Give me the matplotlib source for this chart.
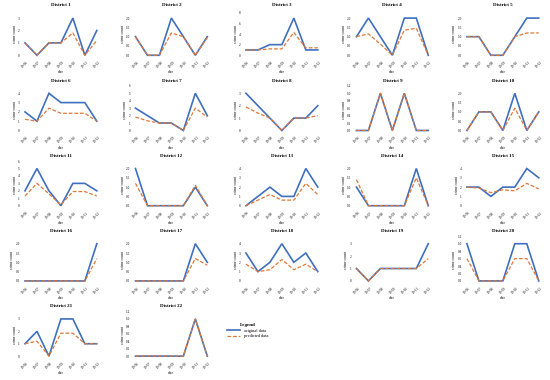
import matplotlib
matplotlib.use("Agg")
import matplotlib.pyplot as plt
from matplotlib.lines import Line2D

dates = ["19-06", "19-07", "19-08", "19-09", "19-10", "19-11", "19-12"]

districts = ["District %d" % i for i in range(1, 23)]

original = [
    [1, 0, 1, 1, 3, 0, 2],
    [1, 0, 0, 2, 1, 0, 1],
    [1, 1, 2, 2, 7, 1, 1],
    [1, 2, 1, 0, 2, 2, 0],
    [1, 1, 0, 0, 1, 2, 2],
    [2, 1, 4, 3, 3, 3, 1],
    [3, 2, 1, 1, 0, 5, 2],
    [3, 2, 1, 0, 1, 1, 2],
    [0, 0, 1, 0, 1, 0, 0],
    [0, 1, 1, 0, 2, 0, 1],
    [2, 5, 2, 0, 3, 3, 2],
    [2, 0, 0, 0, 0, 1, 0],
    [0, 1, 2, 1, 1, 4, 2],
    [1, 0, 0, 0, 0, 2, 0],
    [2, 2, 1, 2, 2, 4, 3],
    [0, 0, 0, 0, 0, 0, 2],
    [0, 0, 0, 0, 0, 2, 1],
    [3, 1, 2, 4, 2, 3, 1],
    [1, 0, 1, 1, 1, 1, 3],
    [1, 0, 0, 0, 1, 1, 0],
    [1, 2, 0, 3, 3, 1, 1],
    [0, 0, 0, 0, 0, 1, 0],
]

predicted = [
    [1, 0, 1, 1, 1.8, 0, 1.2],
    [1, 0, 0, 1.2, 1.0, 0, 0.95],
    [1, 1, 1.2, 1.2, 4.3, 1.4, 1.4],
    [1, 1.15, 0.6, 0, 1.35, 1.45, 0],
    [1, 1, 0, 0, 1, 1.2, 1.2],
    [1.2, 1, 2.4, 1.85, 1.85, 1.85, 1],
    [1.8, 1.3, 1, 1, 0, 3, 1.8],
    [1.9, 1.4, 1, 0, 1, 1, 1.2],
    [0, 0, 1, 0, 1, 0, 0],
    [0, 1, 1, 0, 1.2, 0, 1],
    [1.3, 3, 1.6, 0.1, 1.9, 1.9, 1.3],
    [1.2, 0, 0, 0, 0, 1.1, 0],
    [0, 0.6, 1.2, 0.6, 0.6, 2.4, 1.2],
    [1.4, 0, 0, 0, 0, 1.5, 0],
    [2, 1.9, 1.4, 1.7, 1.6, 2.4, 1.8],
    [0, 0, 0, 0, 0, 0, 1.2],
    [0, 0, 0, 0, 0, 1.2, 0.85],
    [1.8, 1.0, 1.2, 2.3, 1.2, 1.8, 1.0],
    [1, 0, 1, 1, 1, 1, 1.8],
    [0.6, 0, 0, 0, 0.6, 0.6, 0],
    [1, 1.2, 0, 1.85, 1.85, 1, 1],
    [0, 0, 0, 0, 0, 1, 0],
]

blue = "#3F6FBF"
orange = "#E07838"

plt.rcParams["font.family"] = ["Liberation Serif", "DejaVu Serif"]

fig = plt.figure(figsize=(5.5, 3.8), dpi=100)
gs = fig.add_gridspec(5, 5, left=0.04, right=0.985, top=0.972, bottom=0.055,
                      hspace=0.58, wspace=0.42)

for i, name in enumerate(districts):
    r, c = divmod(i, 5)
    ax = fig.add_subplot(gs[r, c])
    x = list(range(len(dates)))
    ax.plot(x, original[i], color=blue, lw=1.2, solid_joinstyle="miter")
    ax.plot(x, predicted[i], color=orange, lw=0.9, ls=(0, (3, 1.5)))
    ax.set_title(name, fontsize=3.6, fontweight="bold", pad=3)
    ax.set_xticks(x)
    ax.set_xticklabels(dates, rotation=45, fontsize=2.4)
    ax.tick_params(axis="both", length=0, pad=1.5, labelsize=2.4)
    ax.set_xlabel("date", fontsize=2.7, labelpad=1)
    ax.set_ylabel("crime count", fontsize=2.7, labelpad=1)
    for s in ax.spines.values():
        s.set_visible(False)
    top = max(max(original[i]), max(predicted[i]))
    ax.set_xlim(-0.25, len(dates) - 0.75)
    ax.set_ylim(-0.08 * top, top * 1.2)

handles = [Line2D([], [], color=blue, lw=1.2),
           Line2D([], [], color=orange, lw=0.9, ls=(0, (3, 1.5)))]
leg = fig.legend(handles, ["original data", "predicted data"], title="Legend",
                 loc="upper left", bbox_to_anchor=(0.405, 0.16), frameon=False,
                 fontsize=3.2, title_fontsize=3.6, handlelength=3.0,
                 labelspacing=0.3)
leg.get_title().set_fontweight("bold")

fig.savefig("out.png", dpi=100)
